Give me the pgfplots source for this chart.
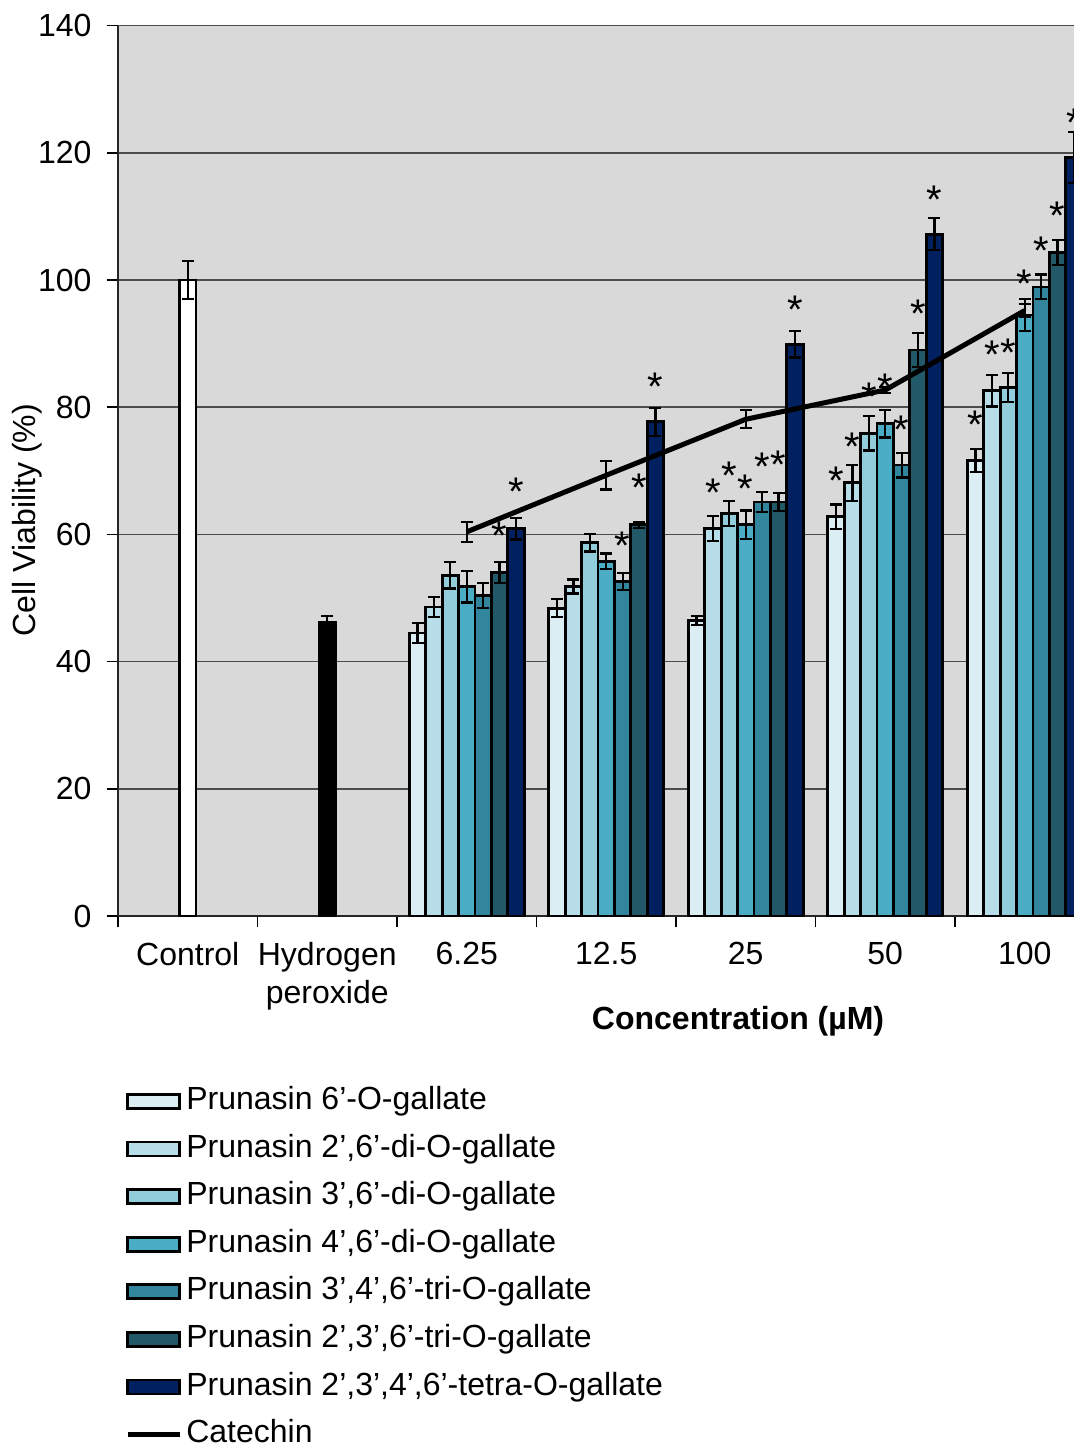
\documentclass[border=0pt]{standalone}
\usepackage{fontspec}
\setmainfont{Liberation Sans}
\usepackage{pgfplots}
\usepackage{pgfplotstable}
\pgfplotsset{compat=1.18}

\definecolor{pA}{HTML}{DAEEF3}
\definecolor{pB}{HTML}{B7DEE8}
\definecolor{pC}{HTML}{92CDDC}
\definecolor{pD}{HTML}{4BACC6}
\definecolor{pE}{HTML}{31859C}
\definecolor{pF}{HTML}{215968}
\definecolor{pG}{HTML}{002060}
\definecolor{plotbg}{HTML}{D9D9D9}

% x: group position (2 = 6.25, 3 = 12.5, 4 = 25, 5 = 50, 6 = 100 uM), y: viability (%), e: error
\pgfplotstableread{
x y e
2 44.5 1.6
3 48.4 1.4
4 46.5 0.7
5 62.8 1.9
6 71.6 1.8
}\tabA
\pgfplotstableread{
x y e
2 48.6 1.6
3 51.8 1.1
4 60.9 1.95
5 68.1 2.8
6 82.6 2.5
}\tabB
\pgfplotstableread{
x y e
2 53.6 2.1
3 58.7 1.4
4 63.3 2.0
5 75.9 2.7
6 83.1 2.25
}\tabC
\pgfplotstableread{
x y e
2 51.8 2.5
3 55.8 1.2
4 61.5 2.25
5 77.4 2.15
6 94.5 2.5
}\tabD
\pgfplotstableread{
x y e
2 50.4 2.0
3 52.6 1.3
4 65.1 1.6
5 70.9 1.95
6 98.9 1.95
}\tabE
\pgfplotstableread{
x y e
2 54.0 1.6
3 61.5 0.5
4 65.1 1.4
5 89.0 2.7
6 104.3 2.0
}\tabF
\pgfplotstableread{
x y e
2 60.9 1.7
3 77.7 2.2
4 89.9 2.1
5 107.2 2.5
6 119.3 4.0
}\tabG
\pgfplotstableread{
x y e
2 60.4 1.6
3 69.3 2.25
4 78.1 1.4
5 82.7 0.5
6 95.2 1.0
}\tabCat

\pgfplotsset{
  errstyle/.style={
    error bars/.cd, y dir=both, y explicit,
      error bar style={black, line width=1.1pt},
      error mark options={rotate=90, black, line width=1.1pt, mark size=3pt},
    /pgfplots/.cd},
  cellbar/.style={ybar, bar width=0.1175, bar shift=0, draw=black, line width=1.4pt,
    errstyle,
    legend image code/.code={\draw[##1, line width=1.4pt] (0pt,-3.5pt) rectangle (26pt,3.5pt);}},
}

\begin{document}
\fontsize{16}{19}\selectfont
\begin{tikzpicture}
\begin{axis}[
  at={(0pt,0pt)}, anchor=south west,
  scale only axis, width=488.25pt, height=445.2pt,
  xmin=-0.5, xmax=6.5, ymin=0, ymax=140,
  axis x line*=bottom, axis y line*=left,
  axis line style={black!85, line width=1pt},
  axis background/.style={fill=plotbg},
  /pgf/number format/assume math mode=true,
  ticklabel style={font=\fontsize{16}{19}\selectfont},
  ytick={0,20,...,140},
  minor ytick={0,20,...,140},
  xtick={0,...,6},
  xticklabels={Control,{Hydrogen\\peroxide},6.25,12.5,25,50,100},
  minor xtick={-0.5,0.5,...,6.5},
  tick align=outside,
  major tick length=0pt, minor tick length=5.5pt,
  tick style={black, line width=0.8pt},
  ymajorgrids, major grid style={draw=black!70, line width=0.8pt},
  yticklabel style={xshift=-7.7pt},
  xticklabel style={align=center, anchor=north, yshift=-7.7pt},
  xlabel={Concentration (µM)},
  xlabel style={at={(axis description cs:0.635,-0.118)}, anchor=center, font=\bfseries\fontsize{16}{19}\selectfont},
  ylabel={Cell Viability (\%)},
  ylabel style={at={(axis description cs:-0.0932,0.4447)}, anchor=center, font=\fontsize{16}{19}\selectfont},
  legend style={at={(axis description cs:0.0071,-0.1898)}, anchor=north west, draw=none, fill=none,
    inner sep=0pt, row sep=7.8pt, font=\fontsize{16}{19}\selectfont,
    nodes={inner sep=0pt, text height=12pt, text depth=4pt},
    /tikz/every odd column/.append style={column sep=2pt}},
  legend cell align=left,
]
% reference groups
\addplot[cellbar, fill=white, forget plot] coordinates {(0,100) +- (0,3)};
\addplot[cellbar, fill=black, forget plot] coordinates {(1,46.1) +- (0,1.1)};

% prunasin gallates, seven bars side by side in each concentration group
\addplot[cellbar, fill=pA] table[x expr=\thisrow{x}-0.3525, y=y, y error=e] {\tabA};
\addplot[cellbar, fill=pB] table[x expr=\thisrow{x}-0.235,  y=y, y error=e] {\tabB};
\addplot[cellbar, fill=pC] table[x expr=\thisrow{x}-0.1175, y=y, y error=e] {\tabC};
\addplot[cellbar, fill=pD] table[x expr=\thisrow{x},        y=y, y error=e] {\tabD};
\addplot[cellbar, fill=pE] table[x expr=\thisrow{x}+0.1175, y=y, y error=e] {\tabE};
\addplot[cellbar, fill=pF] table[x expr=\thisrow{x}+0.235,  y=y, y error=e] {\tabF};
\addplot[cellbar, fill=pG] table[x expr=\thisrow{x}+0.3525, y=y, y error=e] {\tabG};

% significance markers
\addplot[only marks, mark=none, forget plot, nodes near coords={*},
  every node near coord/.style={anchor=center, yshift=-4.5pt, inner sep=0pt, text=black,
    font=\fontsize{20}{20}\selectfont}]
  coordinates {
  (2.235,61.2) (2.3525,68.1)
  (3.1175,59.6) (3.235,68.7) (3.3525,84.7)
  (3.765,67.9) (3.8825,70.6) (4,68.6) (4.1175,72.0) (4.235,72.3) (4.3525,96.7)
  (4.6475,69.8) (4.765,75.2) (4.8825,83.0) (5,84.4) (5.1175,77.8) (5.235,96.1) (5.3525,114.0)
  (5.6475,78.6) (5.765,89.6) (5.8825,89.9) (6,100.9) (6.1175,106.0) (6.235,111.5) (6.3525,126.1)
  };

% catechin
\addplot[black, line width=2.5pt, mark=none, errstyle,
  legend image code/.code={\draw[black, line width=2.5pt] (0pt,0pt) -- (26pt,0pt);}]
  table[x=x, y=y, y error=e] {\tabCat};

\legend{{Prunasin 6’-O-gallate}, {Prunasin 2’,6’-di-O-gallate}, {Prunasin 3’,6’-di-O-gallate},
  {Prunasin 4’,6’-di-O-gallate}, {Prunasin 3’,4’,6’-tri-O-gallate}, {Prunasin 2’,3’,6’-tri-O-gallate},
  {Prunasin 2’,3’,4’,6’-tetra-O-gallate}, {Catechin}}
\end{axis}
\pgfresetboundingbox
\path[use as bounding box] (-59pt,-264.5pt) rectangle (478pt,458pt);
\end{tikzpicture}
\end{document}
